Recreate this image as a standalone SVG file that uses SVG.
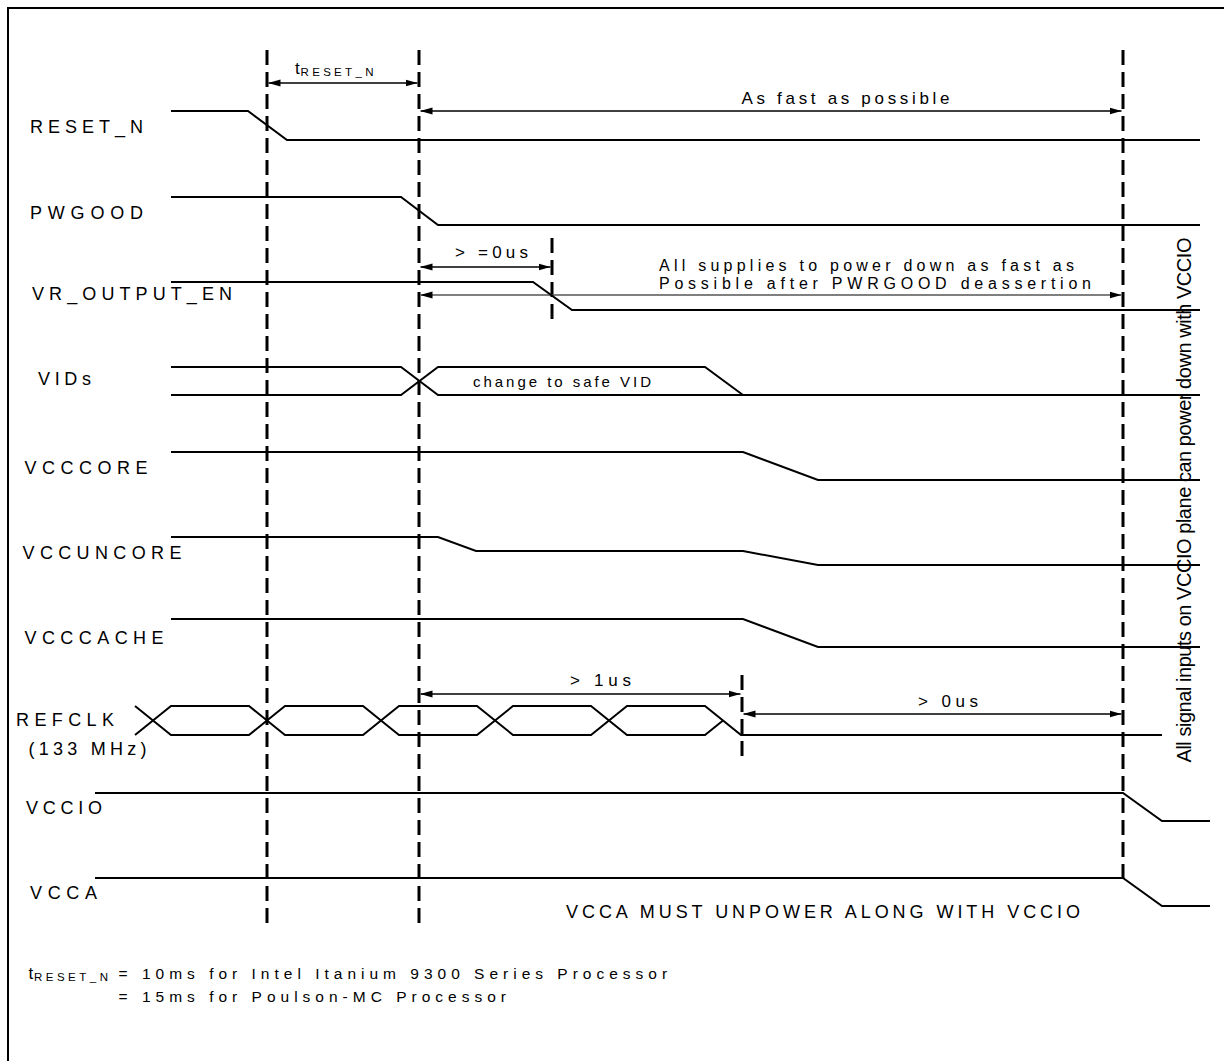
<svg xmlns="http://www.w3.org/2000/svg" width="1224" height="1061" viewBox="0 0 1224 1061">
<style>
  .bg{fill:#fff}
  .frame{fill:none;stroke:#000;stroke-width:2}
  .sig{fill:none;stroke:#000;stroke-width:2;stroke-linejoin:miter}
  .dash{fill:none;stroke:#000;stroke-width:3;stroke-dasharray:15 7}
  .arr{fill:none;stroke:#000;stroke-width:1.3;marker-start:url(#ah);marker-end:url(#ah)}
  .arrg{fill:none;stroke:#555;stroke-width:1.3;marker-start:url(#ah);marker-end:url(#ah)}
  text{font-family:"Liberation Sans",Arial,Helvetica,sans-serif;fill:#000}
  .lbl{font-size:18px}
  .note{font-size:17px}
  .note2{font-size:16px}
  .small{font-size:15px}
  .sub{font-size:11.5px}
  .foot{font-size:15.5px;letter-spacing:5px}
  .vert{font-size:20px}
</style>
<defs>
  <marker id="ah" markerWidth="12" markerHeight="8" refX="12" refY="4" orient="auto-start-reverse" markerUnits="userSpaceOnUse">
    <path d="M0,0.5 L12,4 L0,7.5 z" fill="#000"/>
  </marker>
</defs>
<rect class="bg" x="0" y="0" width="1224" height="1061"/>
<rect class="frame" x="8" y="8" width="1240" height="1080"/>

<g id="connectors">
  <line class="dash" x1="267" y1="50" x2="267" y2="928"/>
  <line class="dash" x1="419" y1="50" x2="419" y2="928"/>
  <line class="dash" x1="1123" y1="50" x2="1123" y2="880"/>
  <line class="dash" x1="552" y1="238" x2="552" y2="322"/>
  <line class="dash" x1="742" y1="675" x2="742" y2="760"/>

  <line class="arr" x1="268.5" y1="83" x2="417.5" y2="83"/>
  <line class="arr" x1="420.5" y1="111" x2="1121.5" y2="111"/>
  <line class="arr" x1="420.5" y1="267" x2="550.5" y2="267"/>
  <line class="arrg" x1="420.5" y1="295" x2="1121.5" y2="295"/>
  <line class="arr" x1="420.5" y1="694" x2="740.5" y2="694"/>
  <line class="arr" x1="743.5" y1="714" x2="1121.5" y2="714"/>
</g>

<g id="annotations">
  <text class="note" x="295" y="74">t</text>
  <text class="sub" x="300.5" y="76" textLength="73" lengthAdjust="spacing">RESET_N</text>
  <text class="note" x="741.5" y="104" textLength="208" lengthAdjust="spacing">As fast as possible</text>
  <text class="note" x="455" y="258" textLength="73" lengthAdjust="spacing">&gt; =0us</text>
  <text class="note2" x="659" y="271" textLength="415" lengthAdjust="spacing">All supplies to power down as fast as</text>
  <text class="note2" x="659" y="289" textLength="432" lengthAdjust="spacing">Possible after PWRGOOD deassertion</text>
  <text class="small" x="473" y="387" textLength="178" lengthAdjust="spacing">change to safe VID</text>
  <text class="note" x="570" y="686" textLength="61" lengthAdjust="spacing">&gt; 1us</text>
  <text class="note" x="918" y="707" textLength="60" lengthAdjust="spacing">&gt; 0us</text>
  <text class="lbl" x="566" y="918" textLength="514" lengthAdjust="spacing">VCCA MUST UNPOWER ALONG WITH VCCIO</text>
  <text class="vert" transform="translate(1191,500) rotate(-90)" text-anchor="middle" textLength="525" lengthAdjust="spacing">All signal inputs on VCCIO plane can power down with VCCIO</text>
  <text class="note" x="28.5" y="979">t</text>
  <text class="sub" x="34" y="981" textLength="74" lengthAdjust="spacing">RESET_N</text>
  <text class="foot" x="118.6" y="979">= 10ms for Intel Itanium 9300 Series Processor</text>
  <text class="foot" x="118.6" y="1002">= 15ms for Poulson-MC Processor</text>
</g>

<g id="reset_n">
  <text class="lbl" x="30" y="133" textLength="113" lengthAdjust="spacing">RESET_N</text>
  <path class="sig" d="M171,111 H248 L287,140 H1200"/>
</g>
<g id="pwgood">
  <text class="lbl" x="30" y="219" textLength="113" lengthAdjust="spacing">PWGOOD</text>
  <path class="sig" d="M171,197 H401 L438,225 H1200"/>
</g>
<g id="vr_output_en">
  <text class="lbl" x="32" y="300" textLength="200" lengthAdjust="spacing">VR_OUTPUT_EN</text>
  <path class="sig" d="M171,282 H533 L572,310 H1200"/>
</g>
<g id="vids">
  <text class="lbl" x="38" y="385" textLength="53" lengthAdjust="spacing">VIDs</text>
  <path class="sig" d="M171,367 H401 L438,395 H1200"/>
  <path class="sig" d="M171,395 H401 L438,367 H705 L743,395"/>
</g>
<g id="vcccore">
  <text class="lbl" x="24.5" y="474" textLength="123" lengthAdjust="spacing">VCCCORE</text>
  <path class="sig" d="M171,452 H743 L818,480 H1200"/>
</g>
<g id="vccuncore">
  <text class="lbl" x="22.5" y="559" textLength="159" lengthAdjust="spacing">VCCUNCORE</text>
  <path class="sig" d="M171,537 H438 L476,551 H743 L818,565 H1200"/>
</g>
<g id="vcccache">
  <text class="lbl" x="24.5" y="644" textLength="139" lengthAdjust="spacing">VCCCACHE</text>
  <path class="sig" d="M171,619 H743 L818,647 H1200"/>
</g>
<g id="refclk">
  <text class="lbl" x="16" y="726" textLength="98" lengthAdjust="spacing">REFCLK</text>
  <text class="lbl" x="28.5" y="755" textLength="118" lengthAdjust="spacing">(133 MHz)</text>
  <path class="sig" d="M135,706 L171,735 H249 L285,706 H363 L399,735 H477 L513,706 H591 L627,735 H705 L723,720.5"/>
  <path class="sig" d="M135,735 L171,706 H249 L285,735 H363 L399,706 H477 L513,735 H591 L627,706 H705 L741,735 H1162"/>
</g>
<g id="vccio">
  <text class="lbl" x="26" y="814" textLength="76" lengthAdjust="spacing">VCCIO</text>
  <path class="sig" d="M95,793 H1123 L1162,821 H1210"/>
</g>
<g id="vcca">
  <text class="lbl" x="30" y="899" textLength="67" lengthAdjust="spacing">VCCA</text>
  <path class="sig" d="M95,878 H1123 L1162,906 H1210"/>
</g>
</svg>
